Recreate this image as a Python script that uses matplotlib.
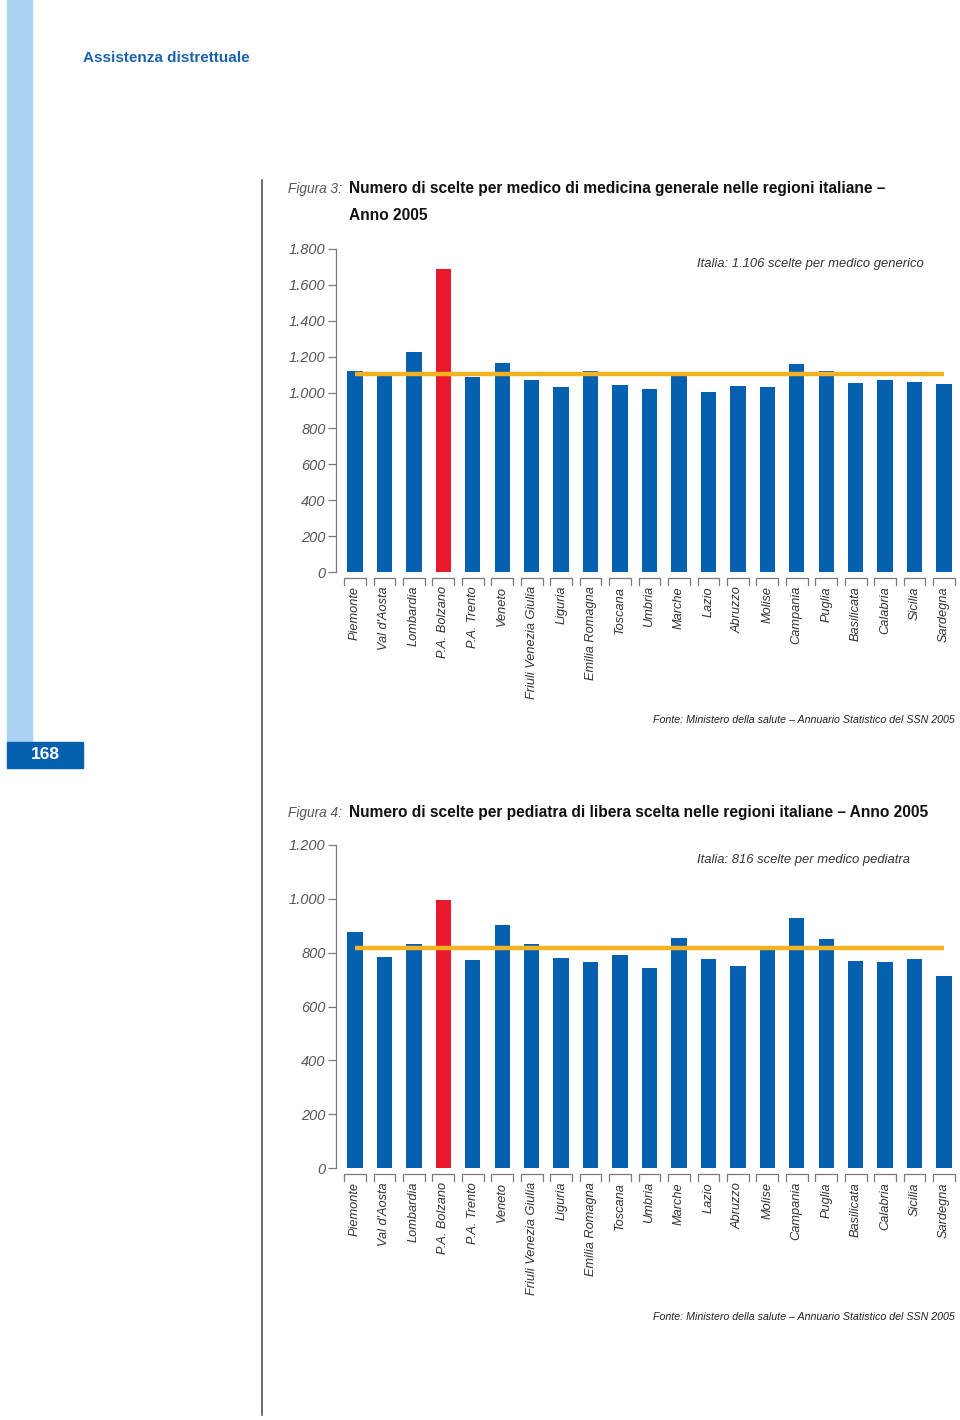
import matplotlib
matplotlib.use("Agg")
import matplotlib.pyplot as plt
from matplotlib.patches import Rectangle
from matplotlib.lines import Line2D
import matplotlib.transforms as mtransforms
from matplotlib.ticker import FuncFormatter

plt.rcParams['font.family'] = ['Liberation Sans', 'DejaVu Sans']

# data
regioni = ["Piemonte", "Val d'Aosta", "Lombardia", "P.A. Bolzano", "P.A. Trento",
           "Veneto", "Friuli Venezia Giulia", "Liguria", "Emilia Romagna", "Toscana",
           "Umbria", "Marche", "Lazio", "Abruzzo", "Molise", "Campania", "Puglia",
           "Basilicata", "Calabria", "Sicilia", "Sardegna"]
scelte_mmg = [1120, 1092, 1226, 1689, 1087, 1165, 1070, 1031, 1120, 1042,
              1020, 1092, 1003, 1037, 1031, 1159, 1120, 1053, 1070, 1059, 1048]
scelte_pls = [877, 784, 832, 996, 773, 903, 832, 780, 765, 791,
              743, 854, 776, 750, 814, 929, 851, 769, 765, 776, 713]
italia_mmg = 1106
italia_pls = 816
ticks_mmg = [0, 200, 400, 600, 800, 1000, 1200, 1400, 1600, 1800]
ticks_pls = [0, 200, 400, 600, 800, 1000, 1200]
evidenziata = "P.A. Bolzano"

blue = "#0660b0"
red = "#e8192c"
orange = "#f4b223"
light_blue = "#acd3f1"
grey_txt = "#555555"
axis_grey = "#7a7a7a"

W, H = 960, 1420
fig = plt.figure(figsize=(W / 100, H / 100), dpi=100)


def fx(px):
    return px / W


def fy(py):
    return 1 - py / H


# page decorations
fig.patches.append(Rectangle((fx(7), fy(742)), fx(25), 742 / H, transform=fig.transFigure,
                             color=light_blue, zorder=0))
fig.patches.append(Rectangle((fx(7), fy(768)), fx(76), 26 / H, transform=fig.transFigure,
                             color=blue, zorder=1))
fig.text(fx(45), fy(755), "168", color="white", fontsize=12.5, fontweight="bold",
         ha="center", va="center")
fig.text(fx(83), fy(58), "Assistenza distrettuale", color="#1a63ad", fontsize=11,
         fontweight="bold", ha="left", va="center")
fig.lines.append(Line2D([fx(262), fx(262)], [fy(180), fy(1415)], transform=fig.transFigure,
                        color="#444444", lw=1.1))


def thousands(v, pos):
    return "{:,.0f}".format(v).replace(",", ".")


def draw_chart(top_px, bottom_px, values, italia, ticks, fig_label, title_lines,
               title_y, note, note_y, source_y):
    ax = fig.add_axes([fx(336), fy(bottom_px), fx(958 - 336), (bottom_px - top_px) / H])
    x = list(range(len(regioni)))
    colors = [red if r == evidenziata else blue for r in regioni]
    ax.bar(x, values, width=0.52, color=colors, zorder=2)
    ax.plot([x[0], x[-1]], [italia, italia], color=orange, lw=3.2, zorder=3,
            solid_capstyle="butt")
    ax.set_xlim(-0.645, 20.475)
    ax.set_ylim(0, ticks[-1])
    ax.set_yticks(ticks)
    ax.yaxis.set_major_formatter(FuncFormatter(thousands))
    ax.tick_params(axis="y", direction="out", length=6, width=0.9, color=axis_grey,
                   labelsize=10.5, labelcolor=grey_txt, pad=1.5)
    for lab in ax.get_yticklabels():
        lab.set_fontstyle("italic")
    ax.set_xticks([])
    for s in ["top", "right", "bottom"]:
        ax.spines[s].set_visible(False)
    ax.spines["left"].set_color(axis_grey)
    ax.spines["left"].set_linewidth(0.9)

    h = bottom_px - top_px
    trans = mtransforms.blended_transform_factory(ax.transData, ax.transAxes)
    for i, r in enumerate(regioni):
        xl, xr = i - 0.37, i + 0.37
        y0, y1 = -6 / h, -13 / h
        ax.plot([xl, xl, xr, xr], [y1, y0, y0, y1], transform=trans, color=axis_grey,
                lw=0.9, clip_on=False)
        ax.text(i, -14 / h, r, transform=trans, rotation=90, ha="center", va="top",
                fontsize=9.2, fontstyle="italic", color="#333333")

    fig.text(fx(288), fy(title_y), fig_label, fontsize=9.8, fontstyle="italic",
             color=grey_txt, ha="left", va="center")
    for k, line in enumerate(title_lines):
        fig.text(fx(349), fy(title_y + 27 * k), line, fontsize=11.2, fontweight="bold",
                 color="#111111", ha="left", va="center")
    fig.text(fx(697), fy(note_y), note, fontsize=9.4, fontstyle="italic",
             color="#333333", ha="left", va="center")
    fig.text(fx(955), fy(source_y),
             "Fonte: Ministero della salute \u2013 Annuario Statistico del SSN 2005",
             fontsize=7.7, fontstyle="italic", color="#222222", ha="right", va="center")
    return ax


draw_chart(249, 572, scelte_mmg, italia_mmg, ticks_mmg, "Figura 3:",
           ["Numero di scelte per medico di medicina generale nelle regioni italiane \u2013",
            "Anno 2005"], 189, "Italia: 1.106 scelte per medico generico", 264, 720)
draw_chart(845, 1168, scelte_pls, italia_pls, ticks_pls, "Figura 4:",
           ["Numero di scelte per pediatra di libera scelta nelle regioni italiane \u2013 Anno 2005"],
           813, "Italia: 816 scelte per medico pediatra", 860, 1317)

fig.savefig("out.png", dpi=100, facecolor="white")
